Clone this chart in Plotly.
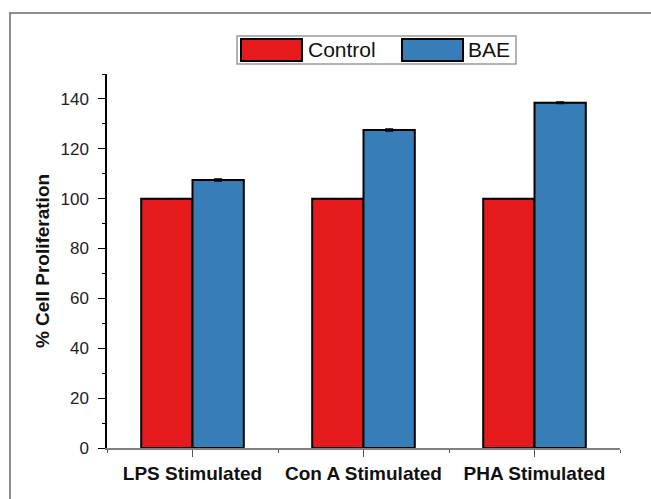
import plotly.graph_objects as go

categories = ["LPS Stimulated", "Con A Stimulated", "PHA Stimulated"]
control_values = [100, 100, 100]
bae_values = [107.5, 127.5, 138.5]
control_err = [0.0, 0.0, 0.0]
bae_err = [0.4, 0.4, 0.3]
y_tick_vals = [0, 20, 40, 60, 80, 100, 120, 140]
series_names = ["Control", "BAE"]
series_colors = ["#E41A1C", "#377EB8"]

W, H = 651, 499
L, R, T, B = 107, 31, 74, 51
PW, PH = W - L - R, H - T - B


def px_x(p):
    return (p - L) / PW


def px_y(p):
    return (H - B - p) / PH


FONT = "Arial, Liberation Sans, sans-serif"
xpos = list(range(len(categories)))

fig = go.Figure()
for name, vals, errs, col in [
    (series_names[0], control_values, control_err, series_colors[0]),
    (series_names[1], bae_values, bae_err, series_colors[1]),
]:
    fig.add_trace(go.Bar(
        x=xpos, y=vals, name=name,
        marker=dict(color=col, line=dict(color="#000000", width=2)),
        error_y=dict(type="data", array=errs, visible=True, color="#000000",
                     thickness=1.5, width=4),
        showlegend=False,
    ))

fig.update_layout(
    width=W, height=H,
    margin=dict(l=L, r=R, t=T, b=B),
    paper_bgcolor="white", plot_bgcolor="white",
    barmode="group", bargap=0.4, bargroupgap=0,
    font=dict(family=FONT, color="#222222"),
    xaxis=dict(
        range=[-0.5, 2.5], tickvals=xpos, ticktext=categories,
        showgrid=False, zeroline=False,
        showline=True, linecolor="#808080", linewidth=1.5,
        ticks="outside", ticklen=7, tickcolor="#555555", tickwidth=1.2,
        minor=dict(tick0=0.5, dtick=1, ticks="outside", ticklen=3,
                   tickcolor="#555555", tickwidth=1.2),
        tickfont=dict(size=19, family=FONT, color="#111111", weight="bold"),
        ticklabelstandoff=0,
    ),
    yaxis=dict(
        range=[0, 150], tickvals=y_tick_vals,
        showgrid=False, zeroline=False,
        showline=True, linecolor="#000000", linewidth=1.5,
        ticks="outside", ticklen=7, tickcolor="#000000", tickwidth=1.2,
        minor=dict(tick0=10, dtick=20, ticks="outside", ticklen=3,
                   tickcolor="#000000", tickwidth=1.2),
        tickfont=dict(size=17, family=FONT, color="#222222"),
        ticklabelstandoff=6,
        title=dict(text="% Cell Proliferation", standoff=6,
                   font=dict(size=19, family=FONT, color="#111111", weight="bold")),
    ),
)

shapes = []
# outer frame (left and top lines)
shapes.append(dict(type="line", xref="paper", yref="paper",
                   x0=px_x(10), x1=px_x(10), y0=px_y(13), y1=px_y(499),
                   line=dict(color="#6a6a6a", width=1.5)))
shapes.append(dict(type="line", xref="paper", yref="paper",
                   x0=px_x(9), x1=px_x(651), y0=px_y(13), y1=px_y(13),
                   line=dict(color="#6a6a6a", width=1.5)))
# legend box
shapes.append(dict(type="rect", xref="paper", yref="paper",
                   x0=px_x(237), x1=px_x(516), y0=px_y(36), y1=px_y(64),
                   line=dict(color="#9a9a9a", width=1.5), fillcolor="white"))
legend_items = [(241, 302, 306), (402, 463, 466)]
annotations = []
for (x0, x1, tx), name, col in zip(legend_items, series_names, series_colors):
    shapes.append(dict(type="rect", xref="paper", yref="paper",
                       x0=px_x(x0), x1=px_x(x1), y0=px_y(39), y1=px_y(61),
                       line=dict(color="#000000", width=2), fillcolor=col))
    annotations.append(dict(xref="paper", yref="paper", x=px_x(tx), y=px_y(50),
                            text=name, showarrow=False, xanchor="left",
                            yanchor="middle",
                            font=dict(size=21, family=FONT, color="#111111")))

fig.update_layout(shapes=shapes, annotations=annotations)

fig.write_html("out.html",
               config={"displayModeBar": False},
               post_script="document.body.style.margin='0';"
                           "document.body.style.overflow='hidden';")
